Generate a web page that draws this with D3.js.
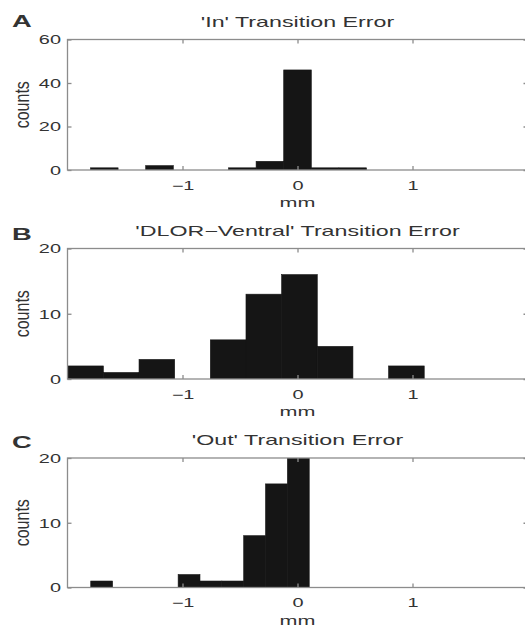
<!DOCTYPE html>
<html lang="en">
<head>
<meta charset="utf-8">
<title>Transition Error histograms</title>
<script src="https://d3js.org/d3.v7.min.js"></script>
<style>
  body { margin: 0; background: #fff; }
  svg text { font-family: "Liberation Sans", Arial, Helvetica, sans-serif; fill: #333; }
  .axis path, .axis line { stroke: #8c8c8c; stroke-width: 1.3; }
</style>
</head>
<body>
<svg id="chart" width="525" height="630"></svg>
<script>
// ---- data ----
const letters = ["A", "B", "C"];
const titles = ["'In' Transition Error", "'DLOR\u2212Ventral' Transition Error", "'Out' Transition Error"];
const xTicks = [-1, 0, 1];

// 'In' histogram (bin centres in mm, counts)
const inCenters = [-1.68, -1.44, -1.20, -0.96, -0.72, -0.48, -0.24, 0.00, 0.24, 0.48];
const inCounts  = [1, 0, 2, 0, 0, 1, 4, 46, 1, 1];
const inBinWidth = 0.24;
const inYTicks = [0, 20, 40, 60];

// 'DLOR-Ventral' histogram
const dvCenters = [-1.843, -1.533, -1.223, -0.913, -0.603, -0.293, 0.017, 0.327, 0.637, 0.947];
const dvCounts  = [2, 1, 3, 0, 6, 13, 16, 5, 0, 2];
const dvBinWidth = 0.31;
const dvYTicks = [0, 10, 20];

// 'Out' histogram
const outCenters = [-1.703, -1.513, -1.323, -1.133, -0.943, -0.753, -0.563, -0.373, -0.183, 0.007];
const outCounts  = [1, 0, 0, 0, 2, 1, 1, 8, 16, 20];
const outBinWidth = 0.19;
const outYTicks = [0, 10, 20];

// ---- layout ----
const svg = d3.select("#chart");
const stretch = 1.66;   // the figure is stretched sideways, text too
const left = 67.5, right = 527.5;
const tops = [39.5, 248.5, 458];
const heights = [130.5, 130.5, 129.5];
const letterBase = [27, 240, 448];

const x = d3.scaleLinear().domain([-2, 2]).range([left, right]);

const panels = [
  {centers: inCenters, counts: inCounts, bw: inBinWidth, yTicks: inYTicks},
  {centers: dvCenters, counts: dvCounts, bw: dvBinWidth, yTicks: dvYTicks},
  {centers: outCenters, counts: outCounts, bw: outBinWidth, yTicks: outYTicks}
];

panels.forEach(function(p, i){
  const top = tops[i], h = heights[i], bottom = top + h;
  const yMax = d3.max(p.yTicks);
  const y = d3.scaleLinear().domain([0, yMax]).range([bottom, top]);
  const g = svg.append("g").attr("class", "panel");

  // bars (clipped to the axes box like matlab)
  const clipId = "clip" + i;
  g.append("clipPath").attr("id", clipId)
    .append("rect").attr("x", left).attr("y", top).attr("width", right - left).attr("height", h);

  const bins = p.centers.map(function(c, k){ return {c: c, n: p.counts[k]}; }).filter(d => d.n > 0);
  g.append("g").attr("clip-path", "url(#" + clipId + ")")
    .selectAll("rect").data(bins).enter().append("rect")
    .attr("x", d => x(d.c - p.bw / 2))
    .attr("width", d => x(d.c + p.bw / 2) - x(d.c - p.bw / 2))
    .attr("y", d => y(d.n))
    .attr("height", d => y(0) - y(d.n))
    .attr("fill", "#151515")
    .attr("stroke", "#151515")
    .attr("stroke-width", 0.6);

  // box axes with inward ticks
  const xb = g.append("g").attr("class", "axis").attr("transform", "translate(0," + bottom + ")")
    .call(d3.axisBottom(x).tickValues(xTicks).tickSize(-4).tickPadding(10).tickFormat(d => d < 0 ? "\u2212" + Math.abs(d) : d));
  g.append("g").attr("class", "axis").attr("transform", "translate(0," + top + ")")
    .call(d3.axisTop(x).tickValues(xTicks).tickSize(-4).tickFormat(""));
  const yl = g.append("g").attr("class", "axis").attr("transform", "translate(" + left + ",0)")
    .call(d3.axisLeft(y).tickValues(p.yTicks).tickSize(-4).tickPadding(6));
  g.append("g").attr("class", "axis").attr("transform", "translate(" + right + ",0)")
    .call(d3.axisRight(y).tickValues(p.yTicks).tickSize(-4).tickFormat(""));

  svg.selectAll(".axis .domain").attr("d", null);
  g.selectAll(".axis .domain").remove();
  g.append("rect").attr("x", left).attr("y", top).attr("width", right - left).attr("height", h)
    .attr("fill", "none").attr("stroke", "#8c8c8c").attr("stroke-width", 1.3);

  xb.selectAll("text")
    .attr("font-size", 12).attr("dy", null).attr("y", 0)
    .attr("transform", "translate(0,19.5) scale(" + stretch + ",1)");
  yl.selectAll("text")
    .attr("font-size", 12).attr("x", 0).attr("dy", "0.36em")
    .attr("text-anchor", "end")
    .attr("transform", "translate(-6.5,0) scale(" + stretch + ",1)");

  // labels
  svg.append("text")
    .attr("transform", "translate(" + x(0) + "," + (top - 13) + ") scale(" + stretch + ",1)")
    .attr("text-anchor", "middle").attr("font-size", 14)
    .text(titles[i]);
  svg.append("text")
    .attr("transform", "translate(" + x(0) + "," + (bottom + 37) + ") scale(" + stretch + ",1)")
    .attr("text-anchor", "middle").attr("font-size", 13)
    .text("mm");
  svg.append("text")
    .attr("transform", "translate(29," + (top + h / 2) + ") scale(1.25,1) rotate(-90)")
    .attr("text-anchor", "middle").attr("font-size", 16)
    .text("counts");
  svg.append("text")
    .attr("transform", "translate(12," + letterBase[i] + ") scale(" + stretch + ",1)")
    .attr("font-size", 16.5).attr("font-weight", "bold").attr("fill", "#111")
    .text(letters[i]);
});
</script>
</body>
</html>
